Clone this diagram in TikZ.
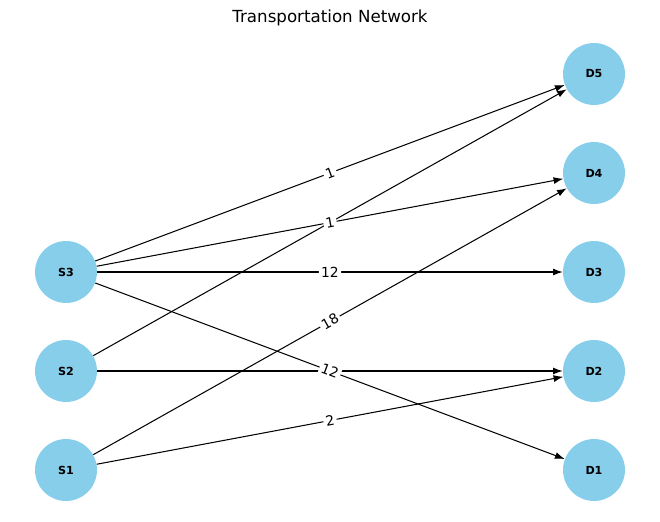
\documentclass[tikz,border=0pt]{standalone}
\usepackage{fontspec}
\setmainfont{DejaVu Sans}
\usetikzlibrary{arrows.meta}
\definecolor{skyblue}{HTML}{87CEEB}
\begin{document}
\begin{tikzpicture}[x=0.72pt,y=-0.72pt,
  netnode/.style={circle,fill=skyblue,draw=none,minimum size=44.6pt,inner sep=0pt,font=\fontsize{8}{9}\selectfont\bfseries},
  flow/.style={line width=0.75pt,-{Latex[length=7pt,width=5pt]}},
  flowlabel/.style={fill=white,inner sep=1.6pt,rounded corners=1pt,font=\fontsize{10}{12}\selectfont,sloped}]
\useasboundingbox (0,0) rectangle (660,522);
\node[font=\fontsize{12}{14}\selectfont] (title) at (330,18) {Transportation Network};
\node[netnode] (S3) at (66,272) {S3};
\node[netnode] (S2) at (66,371) {S2};
\node[netnode] (S1) at (66,470) {S1};
\node[netnode] (D5) at (594,74) {D5};
\node[netnode] (D4) at (594,173) {D4};
\node[netnode] (D3) at (594,272) {D3};
\node[netnode] (D2) at (594,371) {D2};
\node[netnode] (D1) at (594,470) {D1};
\foreach \a/\b in {S3/D5,S3/D4,S3/D3,S3/D1,S2/D5,S2/D2,S1/D4,S1/D2}
  \draw[flow] (\a) -- (\b);
\foreach \a/\b/\t in {S3/D5/1,S3/D4/1,S3/D3/12,S3/D1/12,S1/D4/18,S1/D2/2}
  \path (\a) -- (\b) node[midway,flowlabel] (l\a\b) {\t};
\end{tikzpicture}
\end{document}
